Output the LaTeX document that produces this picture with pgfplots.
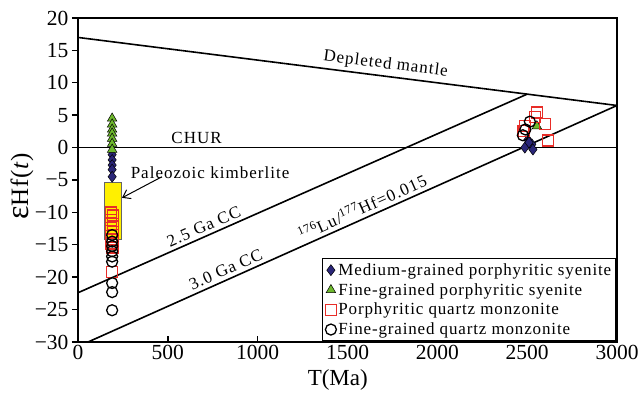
\documentclass[border=0pt]{standalone}
\usepackage{pgfplots}
\pgfplotsset{compat=1.18}
\usepackage{fontspec}
\setmainfont{Liberation Serif}
\usetikzlibrary{arrows.meta}
\definecolor{dmblue}{RGB}{42,38,120}
\definecolor{dmgreen}{RGB}{110,185,45}
\definecolor{dmred}{RGB}{232,45,40}
\definecolor{dmyellow}{RGB}{255,240,0}
\newcommand{\annfont}{\fontsize{17}{17}\selectfont\addfontfeature{LetterSpace=6}}
\begin{document}
\begin{tikzpicture}
\begin{axis}[
  name=ax, scale only axis, width=539pt, height=324pt,
  xmin=0, xmax=3000, ymin=-30, ymax=20,
  xtick={0,500,...,3000}, ytick={-30,-25,...,20},
  xticklabels={0,500,1000,1500,2000,2500,3000},
  yticklabels={−30,−25,−20,−15,−10,−5,0,5,10,15,20},
  tick pos=left,
  xtick align=inside, ytick align=outside,
  major tick length=6pt,
  every tick/.style={black, line width=1.4pt},
  axis line style={line width=1.6pt},
  ticklabel style={font=\fontsize{21.5}{21.5}\selectfont},
  xlabel={T(Ma)},
  ylabel={{\fontsize{32}{32}\selectfont ε}Hf(\textit{t})},
  xlabel style={font=\fontsize{23}{23}\selectfont, at={(axis description cs:0.482,-0.117)}, anchor=center},
  ylabel style={font=\fontsize{25}{25}\selectfont\addfontfeature{LetterSpace=4}, at={(axis description cs:-0.104,0.48)}, anchor=center},
  legend style={at={(1,0)}, anchor=south east, draw=black, line width=1.6pt,
    font=\fontsize{17}{20}\selectfont\addfontfeature{LetterSpace=5}, row sep=2.5pt, inner sep=3pt},
  legend cell align=left,
]
% reference lines
\addplot[forget plot, black, line width=1.6pt] coordinates {(0,0) (3000,0)}
  node[pos=0.22, above, font=\annfont] {CHUR};
\addplot[forget plot, black, line width=1.6pt] coordinates {(0,17.0) (3000,6.5)}
  node[pos=0.568, sloped, above, font=\annfont] {Depleted mantle};
\addplot[forget plot, black, line width=1.6pt] coordinates {(0,-22.4) (2500,8.25)}
  node[pos=0.289, sloped, above, font=\annfont] {2.5 Ga CC};
\addplot[forget plot, black, line width=1.6pt] coordinates {(56,-30) (3000,6.5)}
  node[pos=0.268, sloped, above, font=\annfont] {3.0 Ga CC}
  node[pos=0.527, sloped, above, font=\annfont] {\textsuperscript{176}Lu/\textsuperscript{177}Hf=0.015};
% kimberlite box
\addplot[forget plot, fill=dmyellow, draw=black!60, line width=0.8pt] coordinates {(145,-14.2) (239,-14.2) (239,-5.4) (145,-5.4) (145,-14.2)};
\addplot[forget plot, black, line width=1pt, -{Straight Barb[length=7pt,width=10pt]}] coordinates {(467,-4.5) (245,-7.75)};
\node[font=\annfont] at (axis cs:735,-3.9) {Paleozoic kimberlite};
% data
\addplot[only marks, mark=diamond*, mark size=5.5pt, mark options={fill=dmblue, draw=black, line width=0.5pt}] coordinates {
(190,-1.1) (190,-1.9) (190,-2.7) (190,-3.4) (190,-4.5)
(2504,1.2) (2526,0.5) (2487,0.0) (2532,-0.3) (2510,0.8)};
\addlegendentry{Medium-grained porphyritic syenite}
\addplot[only marks, mark=triangle*, mark size=5.5pt, mark options={fill=dmgreen, draw=black, line width=0.5pt}] coordinates {
(190,4.5) (190,3.6) (190,2.8) (190,2.2) (190,1.4) (190,0.6) (190,-0.3)
(2554,3.3)};
\addlegendentry{Fine-grained porphyritic syenite}
\addplot[only marks, mark=square, mark size=5.5pt, mark options={draw=dmred, line width=1.3pt}] coordinates {
(185,-10.0) (195,-10.5) (185,-11.2) (195,-11.8) (185,-12.4) (195,-13.0) (185,-13.6) (195,-14.2) (185,-14.8) (192,-15.4) (190,-19.2)
(2554,5.4) (2545,4.7) (2487,3.3) (2598,3.6) (2615,1.1) (2480,2.6)};
\addlegendentry{Porphyritic quartz monzonite}
\addplot[only marks, mark=o, mark size=5.5pt, mark options={draw=black, line width=1.3pt}] coordinates {
(190,-13.5) (190,-14.5) (190,-15.2) (190,-16.0) (190,-16.8) (190,-17.6) (190,-20.9) (190,-22.3) (190,-25.1)
(2515,4.0) (2476,1.9) (2490,2.8)};
\addlegendentry{Fine-grained quartz monzonite}
\end{axis}
\path ([xshift=-78pt,yshift=-53pt]ax.south west) rectangle ++(644pt,395pt);
\end{tikzpicture}
\end{document}
